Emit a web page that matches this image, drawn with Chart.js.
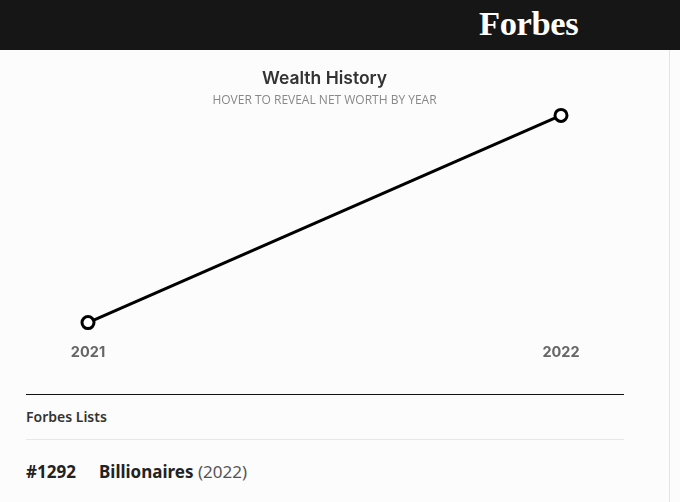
<!DOCTYPE html>
<html>
<head>
<meta charset="utf-8">
<title>Wealth History</title>
<script src="https://cdn.jsdelivr.net/npm/chart.js@4"></script>
<style>
    html, body { margin: 0; padding: 0; }
    body {
        width: 680px;
        height: 502px;
        overflow: hidden;
        background: #fcfcfc;
        position: relative;
        font-family: "Open Sans", sans-serif;
    }
    .header {
        position: absolute;
        left: 0; top: 0;
        width: 680px; height: 50px;
        background: #161616;
    }
    .logo {
        position: absolute;
        left: 479px; top: 4px;
        color: #fff;
        font-family: "Liberation Serif", serif;
        font-weight: bold;
        font-size: 34.5px;
        letter-spacing: -0.4px;
    }
    .rail {
        position: absolute;
        left: 669px; top: 50px;
        width: 1px; height: 452px;
        background: #e4e4e4;
    }
    .chart-box {
        position: absolute;
        left: 26px; top: 56px;
        width: 598px; height: 326px;
    }
    .rule {
        position: absolute;
        left: 26px; width: 598px; height: 1px;
    }
    .lists-title {
        position: absolute;
        left: 26px; top: 407px;
        font-size: 14px; font-weight: 600; color: #333;
        font-family: "Noto Sans", sans-serif;
    }
    .list-row {
        position: absolute;
        left: 26px; top: 460px;
        font-size: 17px; color: #222;
        font-family: "Noto Sans", sans-serif;
    }
    .list-row .rank { font-weight: bold; display: inline-block; width: 73px; }
    .list-row .name { font-weight: bold; }
    .list-row .year { color: #555; }
</style>
</head>
<body>
<div class="header"><span class="logo">Forbes</span></div>
<div class="rail"></div>
<div class="chart-box"><canvas id="wealthChart"></canvas></div>
<div class="rule" style="top:394px;background:#111;"></div>
<div class="lists-title">Forbes Lists</div>
<div class="rule" style="top:439px;background:#e8e8e8;"></div>
<div class="list-row"><span class="rank">#1292</span><span class="name">Billionaires</span> <span class="year">(2022)</span></div>

<script>
// Net worth by year (billions, estimated)
const years = ['2021', '2022'];
const netWorth = [1.6, 2.6];

const ctx = document.getElementById('wealthChart').getContext('2d');

new Chart(ctx, {
    type: 'line',
    data: {
        labels: years,
        datasets: [{
            label: 'Net Worth',
            data: netWorth,
            borderColor: '#000',
            borderWidth: 3,
            backgroundColor: '#fff',
            pointBackgroundColor: '#fff',
            pointBorderColor: '#000',
            pointBorderWidth: 3,
            pointRadius: 6,
            tension: 0,
            clip: false
        }]
    },
    options: {
        responsive: true,
        maintainAspectRatio: false,
        animation: false,
        layout: {
            padding: { left: 62, right: 63, top: 0, bottom: 0 }
        },
        plugins: {
            legend: { display: false },
            tooltip: { enabled: false },
            title: {
                display: true,
                text: 'Wealth History',
                color: '#333',
                font: { family: 'Inter', size: 17.5, weight: '600' },
                padding: { top: 12, bottom: 4 }
            },
            subtitle: {
                display: true,
                text: 'HOVER TO REVEAL NET WORTH BY YEAR',
                color: '#888',
                font: { family: 'Open Sans', size: 12 },
                padding: { top: 0, bottom: 8 }
            }
        },
        scales: {
            x: {
                offset: false,
                grid: { display: false, drawTicks: false },
                border: { display: false },
                ticks: {
                    color: '#666',
                    font: { family: 'Inter', size: 14.5, weight: 'bold' },
                    padding: 21
                }
            },
            y: {
                display: false,
                min: Math.min(...netWorth),
                max: Math.max(...netWorth)
            }
        }
    }
});
</script>
</body>
</html>
